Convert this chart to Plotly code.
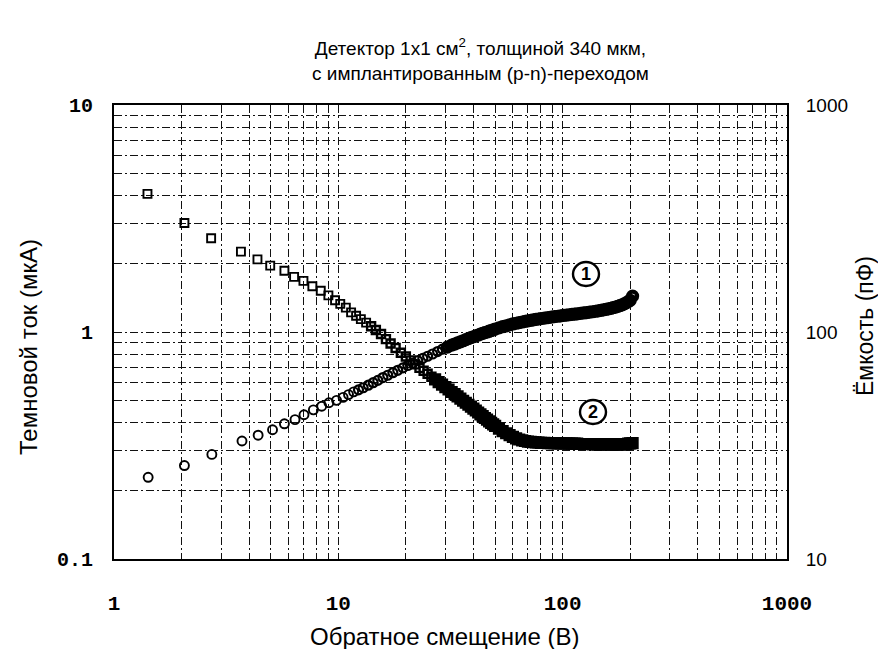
import plotly.graph_objects as go

# ---------------- data ----------------
# Curve 1: dark current (uA) vs reverse bias (V), open circles, left axis
bias_current_V = [1.42, 2.06, 2.73, 3.72, 4.39, 5.09, 5.75, 6.41, 7.03, 7.74, 8.43, 9.08, 9.82,
                  10.5, 11.1, 11.7, 12.3, 12.9, 13.6, 14.3, 15.0, 15.8, 16.6, 17.5, 18.4, 19.4,
                  20.4, 21.5, 22.6, 23.8, 25.0, 26.3, 27.7, 29.1, 30.6, 32, 33, 34, 35, 36, 37,
                  38, 39, 40, 41, 42, 43, 44, 45, 46, 47, 48, 49, 50, 52, 54, 56, 58, 60, 62,
                  64, 66, 68, 70, 72, 74, 76, 78, 80, 83, 86, 89, 92, 95, 98, 101, 104, 107,
                  110, 113, 116, 120, 124, 128, 132, 136, 140, 144, 148, 152, 156, 160, 164,
                  168, 172, 176, 180, 184, 188, 192, 196, 200, 205]
dark_current_uA = [0.229, 0.258, 0.289, 0.331, 0.351, 0.371, 0.394, 0.411, 0.432, 0.454, 0.471, 0.488, 0.500,
                   0.515, 0.530, 0.545, 0.556, 0.568, 0.583, 0.598, 0.612, 0.630, 0.645, 0.662, 0.678, 0.695,
                   0.712, 0.730, 0.748, 0.765, 0.782, 0.800, 0.820, 0.840, 0.858, 0.875, 0.885, 0.895, 0.905, 0.915, 0.925,
                   0.935, 0.944, 0.953, 0.962, 0.970, 0.978, 0.986, 0.994, 1.000, 1.008, 1.015, 1.022, 1.030, 1.042, 1.055, 1.065, 1.075, 1.085, 1.093,
                   1.100, 1.107, 1.114, 1.120, 1.126, 1.131, 1.136, 1.141, 1.146, 1.152, 1.158, 1.163, 1.168, 1.173, 1.178, 1.183, 1.187, 1.191,
                   1.195, 1.199, 1.203, 1.208, 1.213, 1.218, 1.223, 1.228, 1.234, 1.240, 1.246, 1.252, 1.258, 1.265, 1.272,
                   1.280, 1.288, 1.297, 1.307, 1.318, 1.330, 1.343, 1.360, 1.380, 1.440]

# Curve 2: capacitance (pF) vs reverse bias (V), open squares, right axis
bias_cap_V = [1.41, 2.06, 2.71, 3.68, 4.36, 4.97, 5.75, 6.35, 6.99, 7.66, 8.35, 9.03, 9.67,
              10.2, 10.8, 11.4, 12.0, 12.6, 13.3, 14.0, 14.7, 15.5, 16.3, 17.1, 18.0, 19.0, 20.0,
              21, 22, 23, 24, 25, 26, 27, 28, 29, 30, 31, 32, 33, 34, 35, 36, 37, 38, 39, 40,
              41, 42, 43, 44, 45, 46, 47, 48, 49, 50, 52, 54, 56, 58, 60, 62, 64, 66, 68, 70,
              72, 74, 76, 78, 80, 83, 86, 89, 92, 95, 98, 101, 104, 107, 110, 113, 116, 120,
              124, 128, 132, 136, 140, 144, 148, 152, 156, 160, 164, 168, 172, 176, 180, 184,
              188, 192, 196, 200, 205]
capacitance_pF = [406, 302, 259, 226, 209, 196, 186, 175, 168, 159, 152, 145, 138,
                  133, 128, 122, 118, 114, 110, 106, 102, 98, 93, 89, 85, 81, 78,
                  75, 72, 69.5, 67.5, 65.5, 63.5, 61.8, 60.2, 58.6, 57.2, 55.8, 54.4, 53.2, 52, 50.9, 49.8, 48.8, 47.8, 46.9, 46,
                  45.1, 44.2, 43.4, 42.6, 41.8, 41.1, 40.4, 39.8, 39.2, 38.6, 37.5, 36.6, 35.8, 35.1, 34.5, 34.0, 33.6, 33.3, 33.1, 32.9,
                  32.8, 32.7, 32.6, 32.6, 32.5, 32.5, 32.4, 32.4, 32.4, 32.3, 32.3, 32.3, 32.3, 32.2, 32.2, 32.2, 32.2, 32.1,
                  32.1, 32.1, 32.1, 32.0, 32.0, 32.0, 32.0, 32.0, 32.0, 32.0, 32.0, 32.0, 32.0, 32.0, 32.0, 32.0,
                  32.0, 32.1, 32.2, 32.3, 32.4]

x_ticks = [1, 10, 100, 1000]
x_tick_text = ["1", "10", "100", "1000"]
y_left_ticks = [0.1, 1, 10]
y_left_text = ["0.1", "1", "10"]
y_right_ticks = [10, 100, 1000]
y_right_text = ["10", "100", "1000"]

title_text = "Детектор 1x1 см<sup>2</sup>, толщиной 340 мкм,<br>с имплантированным (p-n)-переходом"
x_title = "Обратное смещение (В)"
y_left_title = "Темновой ток (мкА)"
y_right_title = "Ёмкость (пФ)"

# ---------------- layout geometry ----------------
W, H = 886, 649
L, R, T, B = 106, 107, 97, 98
PW, PH = W - L - R, H - T - B


def paper(xp, yp):
    return (xp - L) / PW, (H - B - yp) / PH


minor_x = [m * 10 ** e for e in range(0, 3) for m in range(2, 10)]
minor_y = [m * 10 ** e for e in range(-1, 1) for m in range(2, 10)]
GRID_DASH = "8px,3px,2px,3px"
GRID_COLOR = "#111111"
TXT = "Liberation Sans, Arial, sans-serif"
MONO = "Liberation Mono, Courier New, monospace"

# dense parts of each record merge into a solid black band in the reference
circle_lw = [1.9 if v < 12 else (2.2 if v < 30 else 4.2) for v in bias_current_V]
square_lw = [1.9 if v < 14 else (2.4 if v < 27 else 4.2) for v in bias_cap_V]

fig = go.Figure()
fig.add_trace(go.Scatter(
    x=bias_current_V, y=dark_current_uA, mode="markers", yaxis="y",
    marker=dict(symbol="circle-open", size=9, color="black", line=dict(color="black", width=circle_lw)),
    showlegend=False, hoverinfo="x+y"))
fig.add_trace(go.Scatter(
    x=bias_cap_V, y=capacitance_pF, mode="markers", yaxis="y2",
    marker=dict(symbol="square-open", size=8, color="black", line=dict(color="black", width=square_lw)),
    showlegend=False, hoverinfo="x+y"))

axis_common = dict(type="log", showline=True, linecolor="black", linewidth=2,
                   showgrid=True, gridcolor=GRID_COLOR, gridwidth=1, griddash=GRID_DASH,
                   ticks="", zeroline=False)

fig.update_layout(
    width=W, height=H,
    margin=dict(l=L, r=R, t=T, b=B, pad=0),
    paper_bgcolor="white", plot_bgcolor="white",
    xaxis=dict(**axis_common, range=[0, 3], mirror=True,
               tickmode="array", tickvals=x_ticks, ticktext=x_tick_text,
               tickfont=dict(family=MONO, size=21, color="black", weight="bold"),
               ticklabelstandoff=24,
               minor=dict(tickmode="array", tickvals=minor_x, showgrid=True,
                          gridcolor=GRID_COLOR, gridwidth=1, griddash=GRID_DASH, ticks="")),
    yaxis=dict(**axis_common, range=[-1, 1], mirror=True,
               tickmode="array", tickvals=y_left_ticks, ticktext=y_left_text,
               tickfont=dict(family=MONO, size=20, color="black", weight="bold"),
               ticklabelstandoff=15,
               minor=dict(tickmode="array", tickvals=minor_y, showgrid=True,
                          gridcolor=GRID_COLOR, gridwidth=1, griddash=GRID_DASH, ticks="")),
    yaxis2=dict(type="log", overlaying="y", side="right", range=[1, 3],
                showline=True, linecolor="black", linewidth=2, showgrid=False, zeroline=False,
                ticks="", tickmode="array", tickvals=y_right_ticks, ticktext=y_right_text,
                tickfont=dict(family=TXT, size=19, color="black"),
                ticklabelstandoff=13),
)

ann = []
tx, ty = paper(473, 51)
ann.append(dict(text=title_text, x=tx, y=ty, xref="paper", yref="paper", showarrow=False,
                xanchor="center", yanchor="middle", font=dict(family=TXT, size=19, color="black")))
ax_, ay_ = paper(437, 628)
ann.append(dict(text=x_title, x=ax_, y=ay_, xref="paper", yref="paper", showarrow=False,
                xanchor="center", yanchor="middle", font=dict(family=TXT, size=24, color="black")))
lx, ly = paper(20, 339)
ann.append(dict(text=y_left_title, x=lx, y=ly, xref="paper", yref="paper", showarrow=False,
                textangle=-90, xanchor="center", yanchor="middle",
                font=dict(family=TXT, size=24, color="black")))
rx, ry = paper(857, 318)
ann.append(dict(text=y_right_title, x=rx, y=ry, xref="paper", yref="paper", showarrow=False,
                textangle=-90, xanchor="center", yanchor="middle",
                font=dict(family=TXT, size=23, color="black")))

shapes = []
for label, (cx, cy) in (("1", (578, 266)), ("2", (585, 404))):
    px_, py_ = paper(cx, cy)
    shapes.append(dict(type="circle", xref="paper", yref="paper", xsizemode="pixel", ysizemode="pixel",
                       xanchor=px_, yanchor=py_, x0=-13, x1=13, y0=-12, y1=12,
                       line=dict(color="black", width=2.4), fillcolor="white", layer="above"))
    ann.append(dict(text="<b>" + label + "</b>", x=px_, y=py_, xref="paper", yref="paper",
                    showarrow=False, xanchor="center", yanchor="middle",
                    font=dict(family=TXT, size=18, color="black")))

fig.update_layout(annotations=ann, shapes=shapes)
fig.write_html("out.html")
